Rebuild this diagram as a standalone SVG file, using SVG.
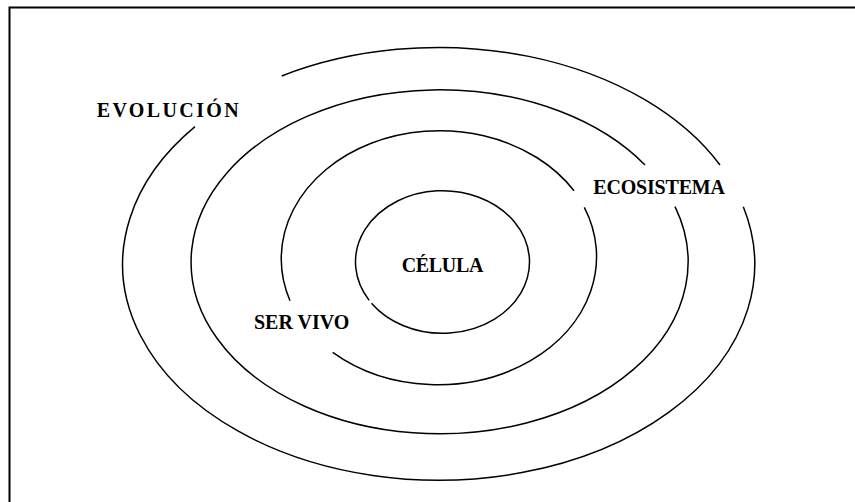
<svg xmlns="http://www.w3.org/2000/svg" width="855" height="502" viewBox="0 0 855 502">
<style>
.ring{fill:none;stroke:#000;stroke-width:1.5}
.lbl{font-family:"Liberation Serif","Times New Roman",serif;font-weight:bold;font-size:20px;fill:#000}
</style>
<rect x="0" y="0" width="855" height="502" fill="#fff"/>
<rect x="9.5" y="7.5" width="860" height="510" fill="none" stroke="#000" stroke-width="2"/>
<g id="connectors"></g>
<g id="evolucion">
<path class="ring" d="M 281.7 76 A 316 216 0 0 1 720 165"/>
<path class="ring" d="M 743.3 206.7 A 316 216 0 1 1 195 126.7"/>
<text class="lbl" x="96.7" y="116.7" textLength="142" lengthAdjust="spacing">EVOLUCIÓN</text>
</g>
<g id="ecosistema">
<path class="ring" d="M 675 206.7 A 248.5 172 0 1 1 645 165"/>
<text class="lbl" x="593.3" y="194" textLength="131.7" lengthAdjust="spacing">ECOSISTEMA</text>
</g>
<g id="servivo">
<path class="ring" d="M 290 300.7 A 158.5 128 0 0 1 574 190.7"/>
<path class="ring" d="M 584.3 207.3 A 158.5 128 0 0 1 332.7 352.3"/>
<text class="lbl" x="254" y="329" textLength="95.3" lengthAdjust="spacing">SER VIVO</text>
</g>
<g id="celula">
<path class="ring" d="M 369.2 300.4 A 87 71.3 0 1 1 371.5 303.2"/>
<text class="lbl" x="401.7" y="272" textLength="81.7" lengthAdjust="spacing">CÉLULA</text>
</g>
</svg>
